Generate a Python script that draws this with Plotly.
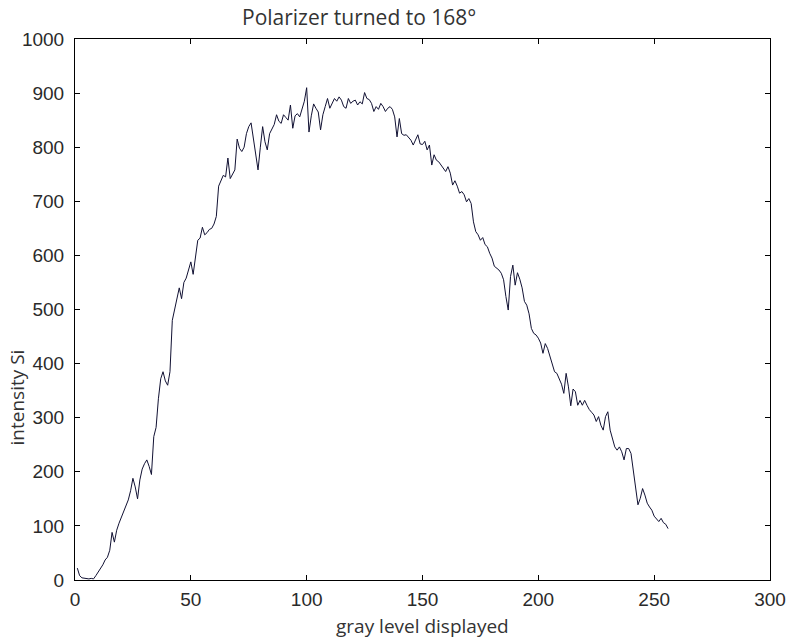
import plotly.graph_objects as go

# Measured intensity for each displayed gray level (index 1..256)
gray_level = list(range(1, 257))
intensity = [
    22, 8, 4, 3, 2, 2, 3, 2, 8, 15,
    20, 28, 37, 42, 55, 88, 70, 92, 105, 115,
    125, 135, 148, 165, 188, 172, 150, 185, 205, 215,
    222, 210, 195, 265, 282, 335, 372, 385, 368, 360,
    385, 480, 500, 515, 540, 520, 550, 558, 572, 588,
    565, 600, 628, 632, 652, 638, 642, 648, 650, 658,
    672, 728, 740, 748, 745, 780, 742, 750, 758, 815,
    798, 792, 800, 825, 838, 845, 815, 790, 758, 800,
    838, 810, 795, 825, 835, 842, 860, 848, 844, 860,
    855, 850, 878, 835, 858, 862, 856, 870, 885, 910,
    828, 858, 880, 872, 865, 832, 860, 875, 890, 872,
    880, 890, 885, 893, 887, 875, 872, 890, 881, 885,
    887, 878, 884, 880, 901, 890, 888, 881, 866, 875,
    870, 881, 875, 866, 872, 875, 870, 856, 819, 853,
    825, 822, 823, 817, 813, 804, 813, 823, 806, 805,
    811, 795, 804, 767, 786, 776, 773, 767, 761, 755,
    764, 752, 730, 738, 728, 715, 718, 712, 699, 705,
    696, 662, 644, 638, 628, 633, 620, 616, 604, 595,
    580, 576, 573, 567, 555, 524, 499, 561, 582, 545,
    568, 556, 540, 515, 508, 492, 465, 456, 453, 447,
    438, 419, 437, 428, 413, 400, 385, 382, 373, 362,
    345, 382, 357, 322, 353, 348, 323, 332, 323, 332,
    323, 315, 310, 305, 293, 302, 286, 277, 302, 311,
    277, 259, 246, 240, 246, 237, 222, 243, 243, 234,
    200, 166, 139, 151, 169, 157, 142, 135, 129, 118,
    112, 108, 114, 106, 103, 95,
]

x_ticks = [0, 50, 100, 150, 200, 250, 300]
y_ticks = [0, 100, 200, 300, 400, 500, 600, 700, 800, 900, 1000]

title_text = "Polarizer turned to 168°"
x_title = "gray level displayed"
y_title = "intensity Si"

fig = go.Figure()
fig.add_trace(go.Scatter(
    x=gray_level, y=intensity, mode="lines",
    line=dict(color="#111133", width=1),
    showlegend=False, hoverinfo="skip",
))

axis_common = dict(
    showgrid=False, zeroline=False, automargin=False,
    showline=True, linecolor="black", linewidth=1, mirror="allticks",
    ticks="inside", ticklen=5, tickwidth=1, tickcolor="black",
    tickfont=dict(family="Liberation Sans, Arial", size=19, color="#2a2a2a"),
)

fig.update_xaxes(range=[0, 300], tickvals=x_ticks, ticktext=[str(v) for v in x_ticks],
                 ticklabelstandoff=2, **axis_common)
fig.update_yaxes(range=[0, 1000], tickvals=y_ticks, ticktext=[str(v) for v in y_ticks],
                 ticklabelstandoff=6, **axis_common)

label_font = dict(family="Open Sans, Noto Sans", size=19, color="#333333")
title_font = dict(family="Open Sans, Noto Sans", size=21, color="#333333")
fig.update_layout(
    width=789, height=639,
    margin=dict(l=75, r=19, t=39, b=59),
    paper_bgcolor="white", plot_bgcolor="white",
    annotations=[
        dict(text=title_text, xref="paper", yref="paper", x=0.2378, y=1.04,
             xanchor="left", yanchor="middle", showarrow=False, font=title_font),
        dict(text=x_title, xref="paper", yref="paper", x=0.5, y=-0.085,
             xanchor="center", yanchor="middle", showarrow=False, font=label_font),
        dict(text=y_title, xref="paper", yref="paper", x=-0.083, y=0.338,
             xanchor="center", yanchor="middle", textangle=-90, showarrow=False,
             font=label_font),
    ],
)

fig.write_html("out.html")
